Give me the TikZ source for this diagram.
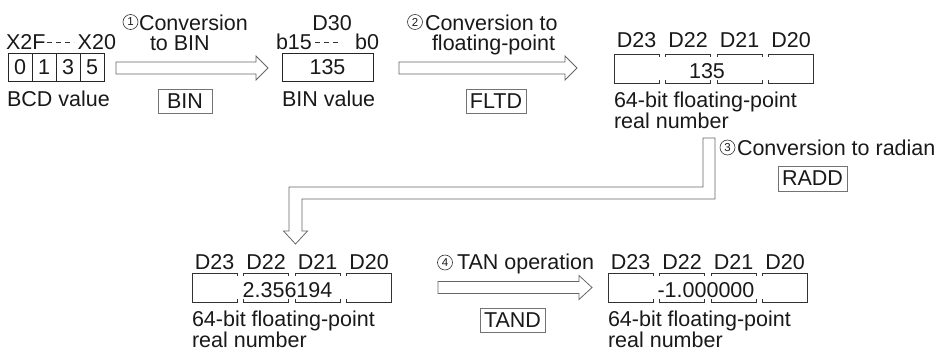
\documentclass[tikz,border=0pt]{standalone}
\usepackage{fontspec}
\setmainfont{Liberation Sans}
\newcommand\regbox[2]{%
  \begin{scope}[shift={(#1,#2)}]
    \draw[regline] (45,3) -- (45,0) -- (0,0) -- (0,29) -- (45,29) -- (45,26);
    \draw[regline] (51.5,3) -- (51.5,0) -- (96.5,0) -- (96.5,3);
    \draw[regline] (51.5,26) -- (51.5,29) -- (96.5,29) -- (96.5,26);
    \draw[regline] (103,3) -- (103,0) -- (148,0) -- (148,3);
    \draw[regline] (103,26) -- (103,29) -- (148,29) -- (148,26);
    \draw[regline] (154.5,3) -- (154.5,0) -- (199.5,0) -- (199.5,29) -- (154.5,29) -- (154.5,26);
  \end{scope}}
\begin{document}
\begin{tikzpicture}[x=1pt,y=-1pt,
  txt/.style={inner sep=0pt, outer sep=0pt, font=\fontsize{21.5}{19}\selectfont, text=black!90},
  two/.style={txt, align=left, anchor=north west},
  cell/.style={txt, draw=black!85, line width=0.9pt, minimum height=28pt},
  lbox/.style={txt, draw=black!55, line width=0.8pt, minimum height=24pt},
  regline/.style={draw=black!80, line width=0.9pt},
  fat/.style={draw=black!60, line width=0.8pt, fill=white, line join=miter},
  dashline/.style={draw=black!80, line width=0.8pt, dash pattern=on 5pt off 4pt},
  circnum/.style={circle, draw=black!80, line width=0.6pt, minimum size=15pt, inner sep=0pt, font=\fontsize{11.5}{11.5}\selectfont, text=black!90}]
\useasboundingbox (0,0) rectangle (943,352);

% ---------- top row: BCD value ----------
\node[txt,anchor=base west] (x2f) at (6,50) {X2F};
\node[txt,anchor=base east] (x20) at (116,50) {X20};
\coordinate (d1a) at (47,42.5);
\coordinate (d1b) at (74,42.5);
\draw[dashline] (d1a) -- (d1b);
\node[cell,minimum width=24pt] (c0) at (20,67) {0};
\node[cell,minimum width=24pt] (c1) at (44,67) {1};
\node[cell,minimum width=24pt] (c2) at (68,67) {3};
\node[cell,minimum width=24pt] (c3) at (92,67) {5};
\node[txt,anchor=base west] (bcdv) at (7,107) {BCD value};

% arrow 1
\draw[fat] (116,62) -- (256,62) -- (256,56) -- (268,68) -- (256,80) -- (256,74) -- (116,74) -- cycle;
\node[circnum] (n1) at (130.5,22) {1};
\node[txt,anchor=base west] (t1a) at (139,31) {Conversion};
\node[txt,anchor=base west] (t1b) at (150,51) {to BIN};
\node[lbox,minimum width=54pt] (bin) at (185,101) {BIN};

% BIN value
\node[txt,anchor=base] (d30) at (332,31) {D30};
\node[txt,anchor=base west] (b15) at (276,50) {b15};
\node[txt,anchor=base east] (b0) at (379,50) {b0};
\coordinate (d2a) at (315,42.5);
\coordinate (d2b) at (338,42.5);
\draw[dashline] (d2a) -- (d2b);
\node[cell,minimum width=91pt] (binv) at (327.5,67) {135};
\node[txt,anchor=base west] (binvl) at (282,107) {BIN value};

% arrow 2
\draw[fat] (399,62) -- (565,62) -- (565,56) -- (577,68) -- (565,80) -- (565,74) -- (399,74) -- cycle;
\node[circnum] (n2) at (415,22) {2};
\node[txt,anchor=base west] (t2a) at (425,31) {Conversion to};
\node[txt,anchor=base west] (t2b) at (432,51) {floating-point};
\node[lbox,minimum width=60pt] (fltd) at (496,101) {FLTD};

% register group 1
\regbox{614}{54}
\node[txt,anchor=base] (ra3) at (636.5,48) {D23};
\node[txt,anchor=base] (ra2) at (688,48) {D22};
\node[txt,anchor=base] (ra1) at (739.5,48) {D21};
\node[txt,anchor=base] (ra0) at (791,48) {D20};
\node[txt,anchor=base] (va) at (707,79) {135};
\node[two] (la) at (614,91.5) {64-bit floating-point\\real number};

% bent arrow 3
\draw[fat] (703,138) -- (703,187) -- (289,187) -- (289,231) -- (283.5,231) -- (295.5,244)
  -- (307.5,231) -- (302,231) -- (302,199) -- (715,199) -- (715,138) -- cycle;
\node[circnum] (n3) at (727.5,147.5) {3};
\node[txt,anchor=base west] (t3) at (737,156) {Conversion to radian};
\node[lbox,minimum width=69pt,minimum height=25pt] (radd) at (812.5,178.5) {RADD};

% register group 2
\regbox{192}{273}
\node[txt,anchor=base] (rb3) at (214.5,270) {D23};
\node[txt,anchor=base] (rb2) at (266,270) {D22};
\node[txt,anchor=base] (rb1) at (317.5,270) {D21};
\node[txt,anchor=base] (rb0) at (369,270) {D20};
\node[txt,anchor=base] (vb) at (287.5,298) {2.356194};
\node[two] (lb) at (192,310.5) {64-bit floating-point\\real number};

% arrow 4
\draw[fat] (438,281.5) -- (579,281.5) -- (579,275.5) -- (592,287.5) -- (579,299.5) -- (579,293.5) -- (438,293.5) -- cycle;
\node[circnum] (n4) at (445,262.5) {4};
\node[txt,anchor=base west] (t4) at (457,270) {TAN operation};
\node[lbox,minimum width=65pt] (tand) at (512.5,320) {TAND};

% register group 3
\regbox{608}{273}
\node[txt,anchor=base] (rc3) at (630.5,270) {D23};
\node[txt,anchor=base] (rc2) at (682,270) {D22};
\node[txt,anchor=base] (rc1) at (733.5,270) {D21};
\node[txt,anchor=base] (rc0) at (785,270) {D20};
\node[txt,anchor=base] (vc) at (706,298) {-1.000000};
\node[two] (lc) at (608,310.5) {64-bit floating-point\\real number};
\end{tikzpicture}
\end{document}
